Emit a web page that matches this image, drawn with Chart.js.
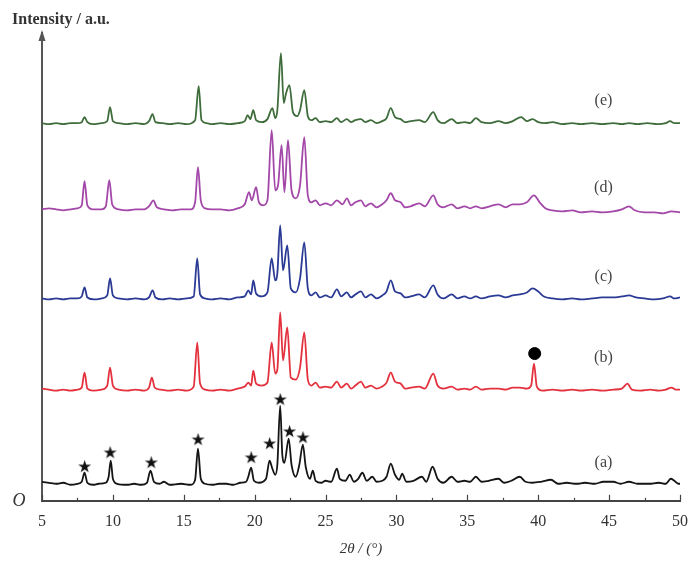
<!DOCTYPE html>
<html>
<head>
<meta charset="utf-8">
<script src="https://cdn.jsdelivr.net/npm/chart.js@4/dist/chart.umd.min.js"></script>
<style>
  html, body { margin: 0; padding: 0; background: #fff; }
  #wrap { width: 700px; height: 570px; position: relative; }
</style>
</head>
<body>
<div id="wrap"><canvas id="xrdChart"></canvas></div>
<script>
// 2theta (deg) / intensity above each trace's own baseline (a.u.)
const patternA = [[5.0,3],[5.5,2],[6.0,1],[6.5,2],[7.0,0],[7.5,1],[7.8,3],[8.0,12],[8.2,2],[8.6,0],[9.0,1],[9.5,2],[9.7,8],[9.85,24],[10.0,6],[10.3,1],[11.0,0],[11.5,1],[12.0,0],[12.4,2],[12.65,14],[12.9,3],[13.3,1],[13.6,3],[14.0,0],[14.8,1],[15.5,0],[15.8,5],[16.0,36],[16.2,6],[16.5,1],[17.0,0],[17.5,1],[18.0,1],[18.5,0],[19.0,2],[19.4,3],[19.55,8],[19.75,17],[19.95,4],[20.3,2],[20.8,6],[21.05,24],[21.25,16],[21.45,10],[21.6,20],[21.8,79],[21.95,30],[22.1,22],[22.4,46],[22.6,20],[22.9,8],[23.15,20],[23.4,40],[23.6,18],[23.9,6],[24.1,14],[24.3,4],[24.7,2],[25.0,4],[25.4,3],[25.8,16],[26.0,6],[26.4,4],[26.7,10],[27.0,3],[27.3,6],[27.6,12],[27.9,4],[28.3,8],[28.6,3],[29.0,4],[29.3,8],[29.6,21],[29.9,10],[30.2,5],[30.4,11],[30.7,3],[31.2,4],[31.8,8],[32.1,3],[32.55,18],[32.9,6],[33.3,2],[33.9,8],[34.3,3],[34.8,4],[35.2,3],[35.6,8],[36.0,3],[36.5,4],[37.2,6],[37.6,2],[38.1,4],[38.7,8],[39.1,3],[39.6,2],[40.2,3],[40.9,5],[41.4,1],[42.0,2],[42.7,1],[43.3,2],[44.0,1],[44.6,3],[45.3,3],[45.8,1],[46.4,3],[47.0,1],[47.8,1],[48.5,2],[49.0,1],[49.35,6],[49.6,4],[49.9,1],[50.0,1]];
const patternB = [[5.0,3],[5.5,2],[6.0,1],[6.5,2],[7.0,1],[7.5,2],[7.8,4],[8.0,19],[8.2,3],[8.6,1],[9.2,2],[9.6,6],[9.8,24],[10.0,6],[10.4,2],[11.0,1],[11.6,2],[12.2,1],[12.55,4],[12.75,14],[12.95,4],[13.4,2],[14.0,1],[14.6,2],[15.2,1],[15.7,5],[15.95,49],[16.15,8],[16.5,2],[17.0,1],[17.6,2],[18.2,1],[18.8,3],[19.3,5],[19.55,9],[19.75,6],[19.9,21],[20.1,8],[20.5,6],[20.9,9],[21.2,49],[21.45,18],[21.6,22],[21.8,79],[22.0,31],[22.3,64],[22.55,14],[22.9,12],[23.2,24],[23.5,59],[23.75,12],[24.0,6],[24.3,9],[24.6,4],[25.0,5],[25.4,4],[25.8,10],[26.1,4],[26.5,8],[26.8,3],[27.1,6],[27.5,10],[27.8,4],[28.2,6],[28.6,3],[29.0,5],[29.3,9],[29.6,19],[29.9,10],[30.3,8],[30.6,3],[31.0,4],[31.6,5],[32.0,3],[32.6,18],[32.9,6],[33.3,3],[33.9,5],[34.3,2],[34.8,3],[35.2,2],[35.6,5],[36.0,2],[36.6,3],[37.2,3],[37.7,2],[38.2,4],[38.7,4],[39.2,3],[39.5,6],[39.7,28],[39.9,5],[40.3,1],[41.0,2],[41.7,1],[42.4,2],[43.0,1],[43.8,2],[44.5,1],[45.3,2],[45.9,3],[46.3,8],[46.6,2],[47.2,1],[47.9,2],[48.5,1],[49.0,2],[49.4,4],[49.7,2],[50.0,2]];
const patternC = [[5.0,2],[5.5,1],[6.0,2],[6.5,1],[7.0,2],[7.5,2],[7.8,4],[8.0,13],[8.2,3],[8.7,1],[9.2,2],[9.6,5],[9.8,22],[10.0,5],[10.4,2],[11.0,1],[11.6,2],[12.2,1],[12.55,3],[12.8,10],[13.0,3],[13.5,1],[14.0,2],[14.6,1],[15.2,2],[15.7,4],[15.95,42],[16.15,6],[16.5,2],[17.0,1],[17.6,2],[18.2,1],[18.8,3],[19.3,4],[19.55,10],[19.75,6],[19.9,20],[20.1,7],[20.5,4],[20.9,8],[21.2,42],[21.45,20],[21.6,27],[21.8,75],[22.0,30],[22.3,55],[22.55,12],[22.9,8],[23.2,22],[23.5,58],[23.75,12],[24.0,5],[24.3,8],[24.6,3],[25.0,5],[25.4,3],[25.8,11],[26.1,4],[26.5,8],[26.8,3],[27.1,6],[27.5,9],[27.8,3],[28.2,6],[28.6,2],[29.0,5],[29.3,9],[29.6,20],[29.9,9],[30.3,7],[30.6,3],[31.0,4],[31.6,6],[32.0,3],[32.6,15],[32.9,6],[33.3,2],[33.9,6],[34.3,2],[34.8,4],[35.2,2],[35.6,4],[36.0,2],[36.6,4],[37.2,5],[37.7,3],[38.2,5],[38.7,6],[39.2,8],[39.6,12],[40.0,9],[40.4,4],[41.0,2],[41.7,1],[42.4,2],[43.0,1],[43.8,2],[44.5,3],[45.3,3],[45.9,4],[46.4,5],[46.9,3],[47.5,2],[48.2,1],[48.8,2],[49.3,4],[49.6,2],[50.0,3]];
const patternD = [[5.0,1],[5.5,2],[6.0,1],[6.5,0],[7.0,1],[7.5,2],[7.8,5],[8.0,29],[8.2,5],[8.6,1],[9.2,1],[9.5,4],[9.75,30],[9.95,6],[10.4,1],[11.0,0],[11.6,1],[12.2,1],[12.6,5],[12.85,10],[13.1,3],[13.6,1],[14.2,0],[14.8,1],[15.5,1],[15.8,8],[16.0,43],[16.2,10],[16.5,2],[17.0,1],[17.6,1],[18.2,0],[18.8,2],[19.3,6],[19.6,18],[19.8,10],[20.1,23],[20.3,8],[20.6,5],[20.9,10],[21.2,80],[21.45,20],[21.65,25],[21.9,65],[22.1,18],[22.35,70],[22.6,20],[22.9,12],[23.2,25],[23.5,73],[23.75,15],[24.0,8],[24.3,10],[24.6,5],[25.0,7],[25.4,5],[25.8,10],[26.2,6],[26.5,12],[26.8,5],[27.1,8],[27.5,10],[27.8,4],[28.2,7],[28.6,3],[29.0,6],[29.3,10],[29.6,17],[29.9,10],[30.3,8],[30.6,3],[31.0,4],[31.6,7],[32.0,4],[32.6,15],[32.9,6],[33.3,3],[33.9,6],[34.3,2],[34.8,4],[35.2,2],[35.6,4],[36.0,2],[36.6,4],[37.2,6],[37.7,3],[38.2,6],[38.7,6],[39.2,8],[39.7,15],[40.1,8],[40.5,2],[41.0,0],[41.7,-1],[42.4,0],[43.0,-2],[43.8,-1],[44.5,-2],[45.3,-1],[45.9,1],[46.4,4],[46.8,0],[47.5,-2],[48.2,-2],[48.8,-3],[49.4,-1],[50.0,-2]];
const patternE = [[5.0,1],[5.5,0],[6.0,1],[6.5,0],[7.0,1],[7.5,1],[7.8,2],[8.0,7],[8.2,2],[8.6,0],[9.2,1],[9.6,3],[9.8,17],[10.0,3],[10.4,1],[11.0,0],[11.6,1],[12.2,0],[12.55,3],[12.8,10],[13.0,2],[13.5,1],[14.0,0],[14.6,1],[15.2,0],[15.8,4],[16.05,38],[16.25,4],[16.6,1],[17.0,0],[17.6,1],[18.2,0],[18.8,1],[19.3,3],[19.5,9],[19.7,5],[19.9,14],[20.1,4],[20.5,2],[20.9,5],[21.25,16],[21.45,6],[21.6,14],[21.85,71],[22.05,21],[22.2,30],[22.45,39],[22.7,12],[23.0,8],[23.2,14],[23.5,34],[23.75,8],[24.0,4],[24.3,6],[24.6,2],[25.0,3],[25.4,2],[25.8,6],[26.1,2],[26.5,5],[26.8,2],[27.1,4],[27.5,5],[27.8,2],[28.2,4],[28.6,1],[29.0,3],[29.3,6],[29.6,16],[29.9,7],[30.3,5],[30.6,2],[31.0,3],[31.6,4],[32.0,2],[32.6,12],[32.9,4],[33.3,1],[33.9,5],[34.3,1],[34.8,2],[35.2,1],[35.6,6],[36.0,2],[36.6,1],[37.2,3],[37.7,1],[38.2,3],[38.8,7],[39.2,3],[39.6,5],[40.0,2],[40.5,1],[41.0,2],[41.7,0],[42.4,1],[43.0,0],[43.8,1],[44.5,0],[45.3,1],[45.9,0],[46.4,1],[47.0,0],[47.7,1],[48.4,0],[49.0,1],[49.3,3],[49.6,1],[50.0,1]];

const patterns = [patternA, patternB, patternC, patternD, patternE];
const traceOffsets = [16, 109, 200, 290, 376];
const traceLabels = ['(a)', '(b)', '(c)', '(d)', '(e)'];
const labelTheta = 44.6;
const labelHeights = [38, 143, 224, 312, 399];

// star marks over the peaks of (a), filled circle over (b)
const starTheta = [8.0, 9.8, 12.7, 16.0, 19.75, 21.05, 21.8, 22.45, 23.4];
const starHeight = [34, 48, 38, 61, 43, 57, 101, 69, 63];
const dotTheta = [39.75];
const dotHeight = [147];

const xTicks = [5, 10, 15, 20, 25, 30, 35, 40, 45, 50];

const traceColors = ['#151515', '#e3313d', '#2b3a94', '#a347a8', '#3e6c3b'];

function makeStar(size) {
    const c = document.createElement('canvas');
    c.width = size;
    c.height = size;
    const g = c.getContext('2d');
    g.fillStyle = '#111';
    g.font = size + 'px "DejaVu Sans"';
    g.textAlign = 'center';
    g.textBaseline = 'middle';
    g.fillText('\u2605', size / 2, size / 2 + 1);
    return c;
}

const datasets = patterns.map((p, i) => ({
    label: traceLabels[i],
    data: p.map(pt => ({ x: pt[0], y: pt[1] + traceOffsets[i] })),
    borderColor: traceColors[i],
    borderWidth: 1.8,
    pointRadius: 0,
    cubicInterpolationMode: 'monotone',
    fill: false
}));

datasets.push({
    label: 'stars',
    data: starTheta.map((t, i) => ({ x: t, y: starHeight[i] })),
    showLine: false,
    pointStyle: makeStar(17),
    pointRadius: 8
});
datasets.push({
    label: 'dot',
    data: dotTheta.map((t, i) => ({ x: t, y: dotHeight[i] })),
    showLine: false,
    pointStyle: 'circle',
    pointRadius: 6,
    backgroundColor: '#000',
    borderColor: '#000'
});

// labels, inward ticks, arrow and axis texts
const decorations = {
    id: 'decorations',
    afterDraw(chart) {
        const ctx = chart.ctx;
        const xs = chart.scales.x;
        const ys = chart.scales.y;
        const area = chart.chartArea;
        ctx.save();

        // inward ticks on the 2theta axis
        ctx.strokeStyle = '#444';
        ctx.lineWidth = 1.2;
        for (let v = 5; v <= 50; v += 2.5) {
            const px = Math.round(xs.getPixelForValue(v)) + 0.5;
            const len = (v % 5 === 0) ? 6 : 3;
            ctx.beginPath();
            ctx.moveTo(px, area.bottom);
            ctx.lineTo(px, area.bottom - len);
            ctx.stroke();
        }

        // arrow head on intensity axis
        ctx.fillStyle = '#555';
        ctx.beginPath();
        ctx.moveTo(area.left, area.top - 3);
        ctx.lineTo(area.left - 3.5, area.top + 8);
        ctx.lineTo(area.left + 3.5, area.top + 8);
        ctx.closePath();
        ctx.fill();

        // trace labels
        ctx.fillStyle = '#444';
        ctx.font = '16px "Liberation Serif"';
        ctx.textAlign = 'center';
        ctx.textBaseline = 'middle';
        traceLabels.forEach((t, i) => {
            ctx.fillText(t, xs.getPixelForValue(labelTheta), ys.getPixelForValue(labelHeights[i]));
        });

        // axis captions
        ctx.fillStyle = '#333';
        ctx.font = 'bold 16px "Liberation Serif"';
        ctx.textAlign = 'left';
        ctx.fillText('Intensity / a.u.', 12, 20);

        ctx.font = 'italic 18px "Liberation Serif"';
        ctx.textAlign = 'center';
        ctx.fillText('O', 19, area.bottom);
        ctx.restore();
    }
};

const chart = new Chart(document.getElementById('xrdChart'), {
    type: 'line',
    data: { datasets: datasets },
    options: {
        responsive: true,
        maintainAspectRatio: false,
        animation: false,
        layout: { padding: { left: 42, right: 20, top: 33, bottom: 8 } },
        plugins: {
            legend: { display: false },
            tooltip: { enabled: false }
        },
        scales: {
            x: {
                type: 'linear',
                min: 5,
                max: 50,
                afterBuildTicks: axis => { axis.ticks = xTicks.map(v => ({ value: v })); },
                ticks: {
                    color: '#333',
                    padding: 11,
                    maxRotation: 0,
                    font: { family: 'Liberation Serif', size: 16 }
                },
                grid: { display: false, drawTicks: false },
                border: { display: true, color: '#444', width: 2 },
                title: {
                    display: true,
                    text: '2\u03b8 / (\u00b0)',
                    color: '#333',
                    padding: { top: -2, bottom: 4 },
                    font: { family: 'Liberation Serif', size: 15, style: 'italic' }
                }
            },
            y: {
                min: 0,
                max: 467,
                ticks: { display: false },
                grid: { display: false, drawTicks: false },
                border: { display: true, color: '#555', width: 2 }
            }
        }
    },
    plugins: [decorations]
});
</script>
</body>
</html>
